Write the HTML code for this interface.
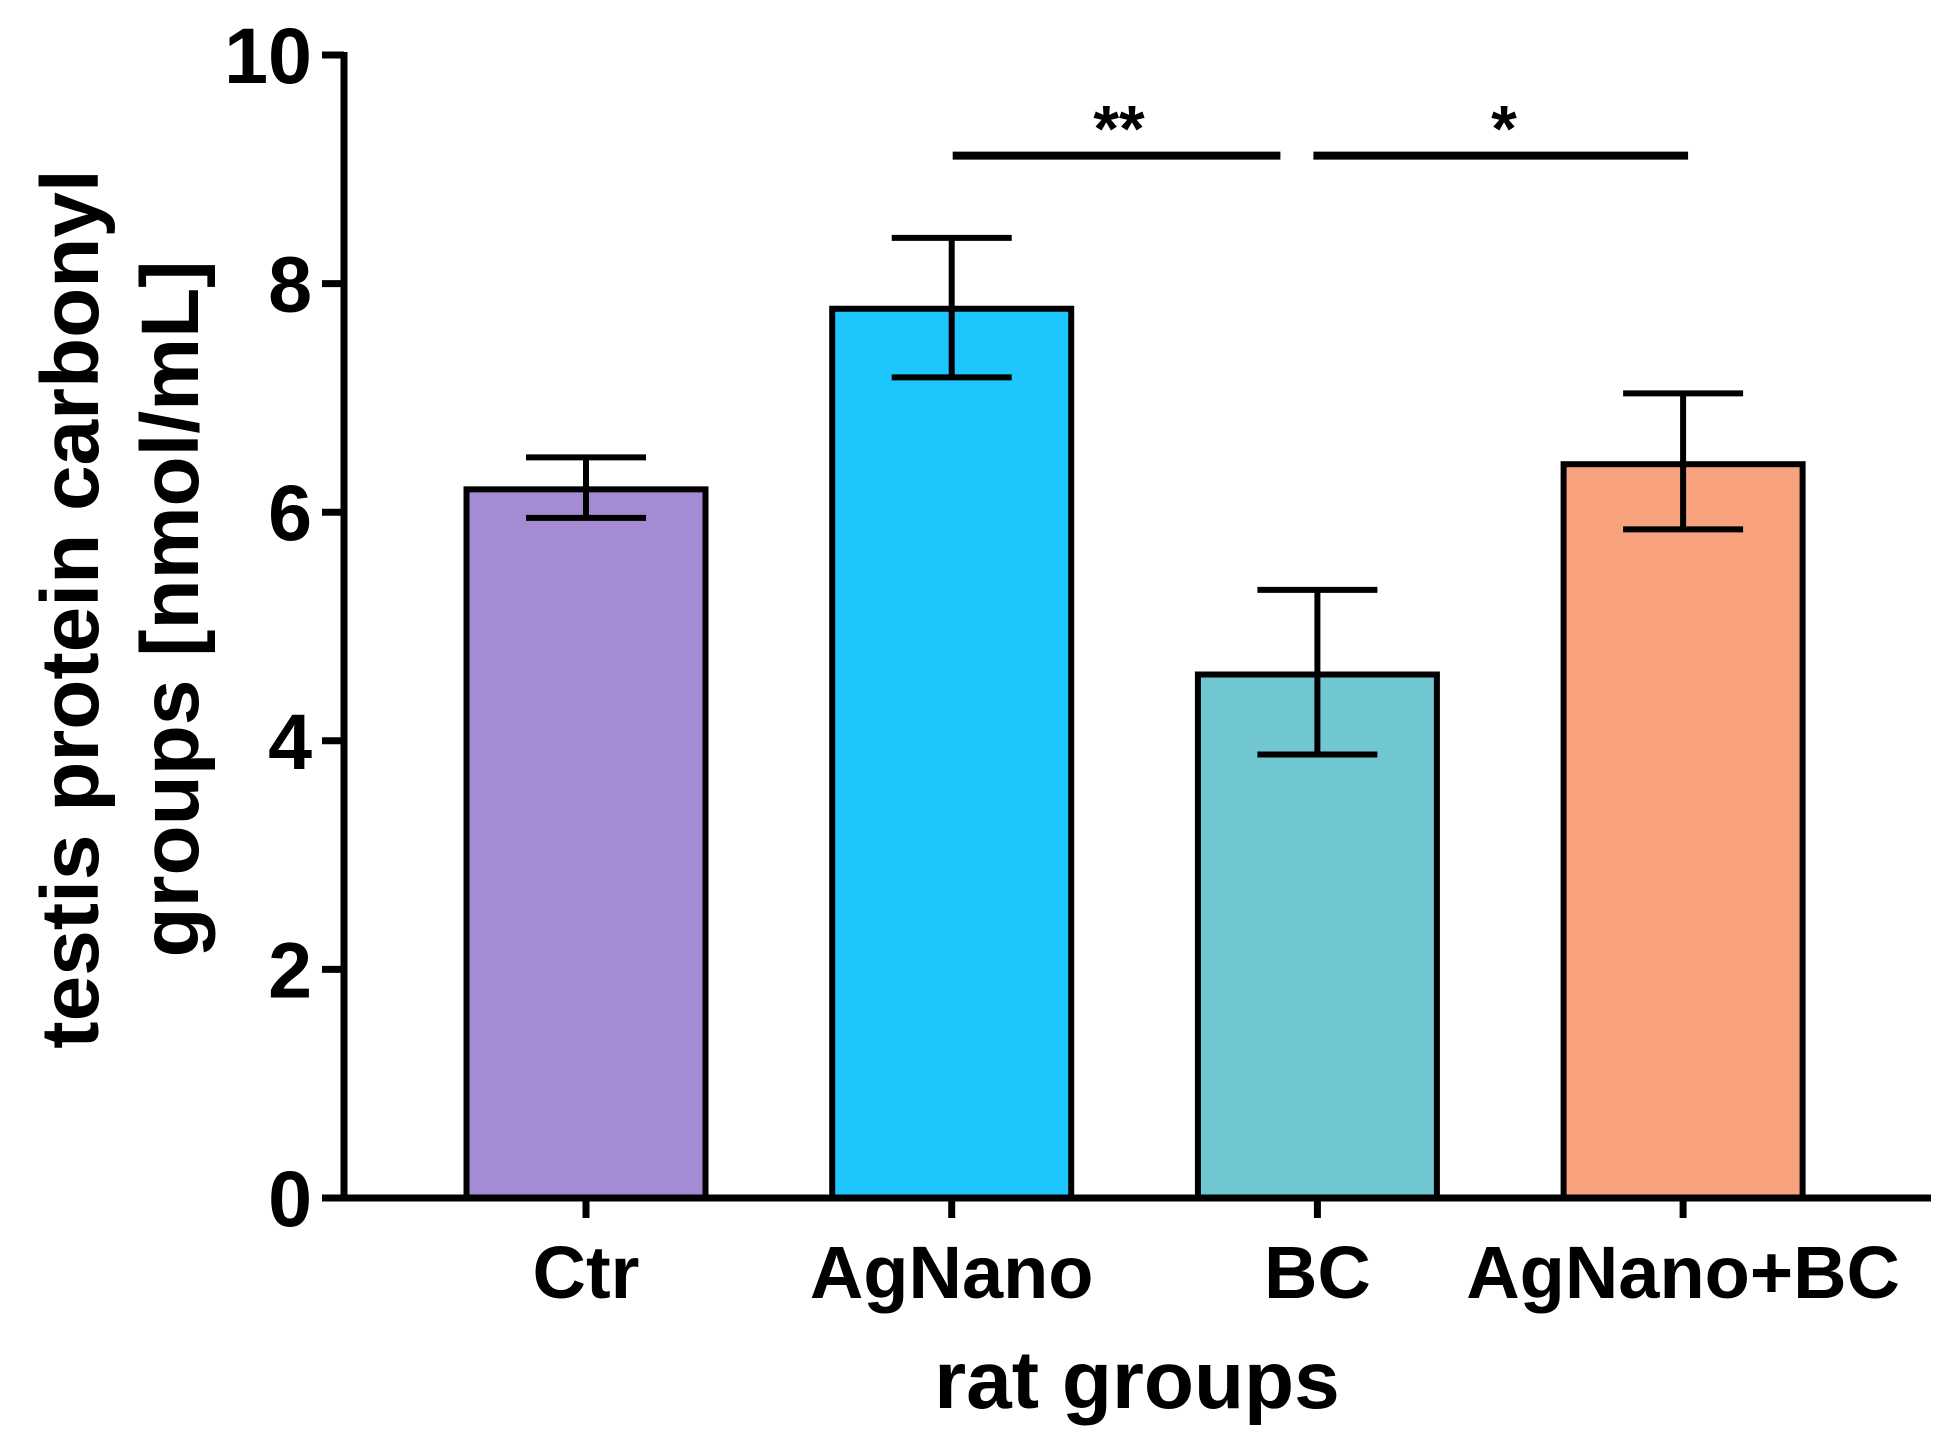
<!DOCTYPE html>
<html><head><meta charset="utf-8"><style>body{margin:0;background:#fff}svg{display:block}text{font-family:"Liberation Sans",Arial,sans-serif;font-weight:bold;fill:#000}</style></head>
<body>
<svg id="chart" width="1950" height="1441" viewBox="0 0 1950 1441">
<g id="plot"></g>
</svg>
<script>
const categories=["Ctr","AgNano","BC","AgNano+BC"];
const means=[6.2,7.78,4.58,6.42];
const errHigh=[6.48,8.4,5.32,7.04];
const errLow=[5.95,7.18,3.88,5.85];
const colors=["#a48bd4","#1ec6fe","#71c7d1","#f9a27e"];
const yTicks=[0,2,4,6,8,10];
const sigPairs=[[1,2,"**"],[2,3,"*"]];
const sigLevel=9.12;

const NS="http://www.w3.org/2000/svg";
const g=document.getElementById("plot");
const x0=344,xEnd=1931,y0=1198,y10=55,first=586,step=365.7,bw=239;
function y(v){return y0-(y0-y10)*v/10;}
function x(i){return first+i*step;}
function mk(t,a,p){const e=document.createElementNS(NS,t);for(const k in a)e.setAttribute(k,a[k]);(p||g).appendChild(e);return e;}

categories.forEach((c,i)=>{
 const r=mk("rect",{x:x(i)-bw/2,y:y(means[i]),width:bw,height:y0-y(means[i]),fill:colors[i],stroke:"#000","stroke-width":6});
 
 
 const e=mk("path",{d:`M${x(i)},${y(errHigh[i])}V${y(errLow[i])}M${x(i)-60},${y(errHigh[i])}H${x(i)+60}M${x(i)-60},${y(errLow[i])}H${x(i)+60}`,stroke:"#000","stroke-width":6,fill:"none"});
 
 
 const tk=mk("line",{x1:x(i),x2:x(i),y1:y0,y2:y0+20,stroke:"#000","stroke-width":7});
 
 
 const t=mk("text",{x:x(i),y:1298,"text-anchor":"middle","font-size":74});
 t.textContent=c;
 
 
});
yTicks.forEach(v=>{
 const tk=mk("line",{x1:x0-22,x2:x0,y1:y(v),y2:y(v),stroke:"#000","stroke-width":7});
 
 
 const t=mk("text",{x:x0-32,y:y(v)+28,"text-anchor":"end","font-size":79});
 t.textContent=v;
 
 
});
const ax=mk("path",{d:`M${x0},${y10-3}V${y0}H${xEnd}`,stroke:"#000","stroke-width":7,fill:"none"});


const sigStart=[1,-4],sigEnd=[-37,5],starX=[1119,1504];
sigPairs.forEach(([a,b,s],k)=>{
 const l=mk("line",{x1:x(a)+sigStart[k],x2:x(b)+sigEnd[k],y1:y(sigLevel),y2:y(sigLevel),stroke:"#000","stroke-width":8});
 
 
 const t=mk("text",{x:starX[k],y:y(sigLevel)-4,"text-anchor":"middle","font-size":66});
 t.textContent=s;
 
 
});
const xt=mk("text",{x:1137,y:1408,"text-anchor":"middle","font-size":82});
xt.textContent="rat groups";


const yt=mk("text",{transform:"translate(0,609) rotate(-90)","text-anchor":"middle","font-size":82});


const s1=mk("tspan",{x:0,y:98},yt);s1.textContent="testis protein carbonyl";
const s2=mk("tspan",{x:0,y:198},yt);s2.textContent="groups [nmol/mL]";
</script>
</body></html>
